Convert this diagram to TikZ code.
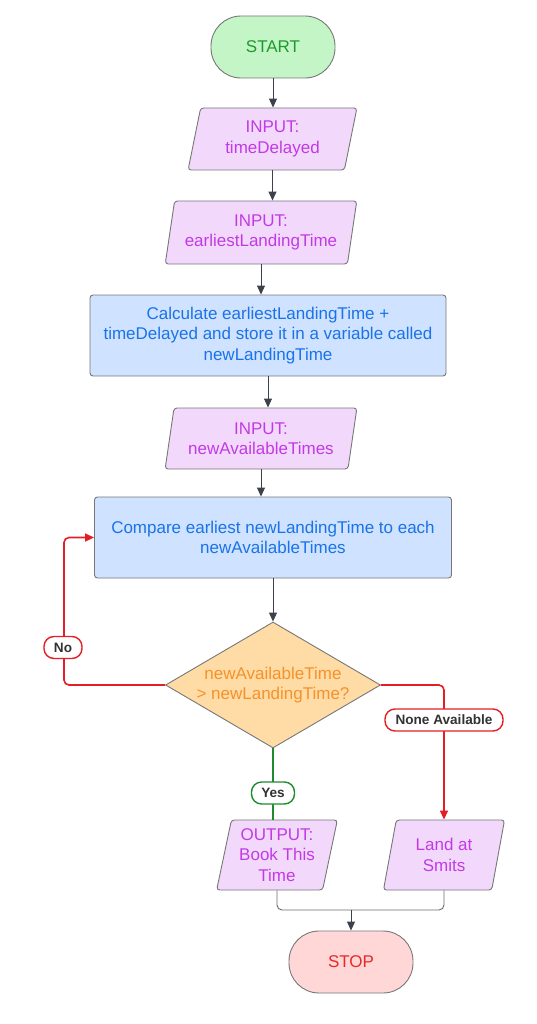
\documentclass[tikz,border=0pt]{standalone}
\usepackage{fontspec}
\setmainfont{Liberation Sans}
\usetikzlibrary{shapes.geometric,arrows.meta,calc}
\definecolor{bordc}{HTML}{777777}
\definecolor{startfill}{HTML}{C3F5C6}
\definecolor{starttext}{HTML}{1F9A2E}
\definecolor{parafill}{HTML}{F2D9FB}
\definecolor{paratext}{HTML}{C23AE6}
\definecolor{bluefill}{HTML}{CFE2FF}
\definecolor{bluetext}{HTML}{1A73E8}
\definecolor{diafill}{HTML}{FFDBA6}
\definecolor{diatext}{HTML}{F5922A}
\definecolor{stopfill}{HTML}{FFD7D7}
\definecolor{stoptext}{HTML}{E8282A}
\definecolor{redln}{HTML}{E31E24}
\definecolor{greenln}{HTML}{1E8C2E}
\definecolor{arrc}{HTML}{3B424B}
\definecolor{lbltext}{HTML}{333333}
\tikzset{
  base/.style={draw=bordc, line width=0.9pt, align=center, inner sep=0pt,
    font=\fontsize{17}{20.5}\selectfont},
  term/.style={base, rectangle, rounded corners=30pt, minimum width=124pt, minimum height=62pt},
  startbox/.style={term, fill=startfill, text=starttext},
  stopbox/.style={term, fill=stopfill, text=stoptext},
  para/.style={base, trapezium, trapezium left angle=77, trapezium right angle=103,
    trapezium stretches=true, rounded corners=3pt, fill=parafill, text=paratext, minimum height=62pt},
  proc/.style={base, rectangle, rounded corners=3pt, fill=bluefill, text=bluetext},
  decis/.style={base, diamond, fill=diafill, text=diatext, inner sep=-14pt, shape aspect=1.7,
    minimum width=215pt, minimum height=126pt},
  conn/.style={draw=arrc, line width=1pt},
  arr/.style={conn, -{Triangle[width=8pt,length=9pt]}, arrc},
  merge/.style={draw=bordc!90!black, line width=0.9pt, rounded corners=5pt},
  redl/.style={draw=redln, line width=1.6pt, rounded corners=5pt},
  greenl/.style={draw=greenln, line width=1.8pt},
  lbl/.style={rectangle, rounded corners=10pt, fill=white, line width=1.4pt,
    text=lbltext, font=\fontsize{13.6}{15}\selectfont\bfseries, inner sep=0pt, minimum height=22pt}
}
\begin{document}
\begin{tikzpicture}[x=1pt,y=-1pt]
\useasboundingbox (0,0) rectangle (537,1024);

\node[startbox] (start) at (273,47) {START};
\node[para, minimum width=169pt] (in1) at (272.5,139) {INPUT:\\timeDelayed};
\node[para, minimum width=192pt, minimum height=63pt] (in2) at (261,232.5) {INPUT:\\earliestLandingTime};
\node[proc, minimum width=356pt, minimum height=81pt] (calc) at (268,335.5) {Calculate earliestLandingTime +\\timeDelayed and store it in a variable called\\newLandingTime};
\node[para, minimum width=192pt, minimum height=61pt] (in3) at (261,438.5) {INPUT:\\newAvailableTimes};
\node[proc, minimum width=357pt, minimum height=81pt] (cmp) at (273,537.5) {Compare earliest newLandingTime to each\\newAvailableTimes};
\node[decis] (dia) at (273,685) {newAvailableTime\\> newLandingTime?};
\node[para, minimum width=122pt, minimum height=70pt] (out) at (277,855) {OUTPUT:\\Book This\\Time};
\node[para, minimum width=122pt, minimum height=70pt] (land) at (444,855) {Land at\\Smits};
\node[stopbox] (stop) at (351,962) {STOP};

\coordinate (nocorner) at (64,610);
\coordinate (mrg) at (351,910);

\draw[arr] (start) -- (start.center |- in1.north);
\draw[arr] (in1.center |- in1.south) -- (in1.center |- in2.north);
\draw[arr] (in2.center |- in2.south) -- (in2.center |- calc.north);
\draw[arr] (calc) -- (calc.center |- in3.north);
\draw[arr] (in3.center |- in3.south) -- (in3.center |- cmp.north);
\draw[arr] (cmp) -- (dia);

\draw[redl, -{Triangle[width=8pt,length=9pt]}, redln] (dia.west) -| (nocorner) |- (cmp.west);
\draw[redl, -{Triangle[width=8pt,length=9pt]}, redln] (dia.east) -| (land.center |- land.north);
\draw[greenl] (dia.south) -- (dia.south |- out.north);

\draw[merge] (out.center |- out.south) |- (mrg);
\draw[merge] (land.center |- land.south) |- (mrg);
\draw[arr, rounded corners=5pt] (mrg) -- (stop);

\node[lbl, draw=redln, minimum width=38pt] (nolbl) at (63,647.5) {No};
\node[lbl, draw=redln, minimum width=118pt] (nalbl) at (444,720) {None Available};
\node[lbl, draw=greenln, minimum width=43pt] (yeslbl) at (273,793) {Yes};
\end{tikzpicture}
\end{document}
